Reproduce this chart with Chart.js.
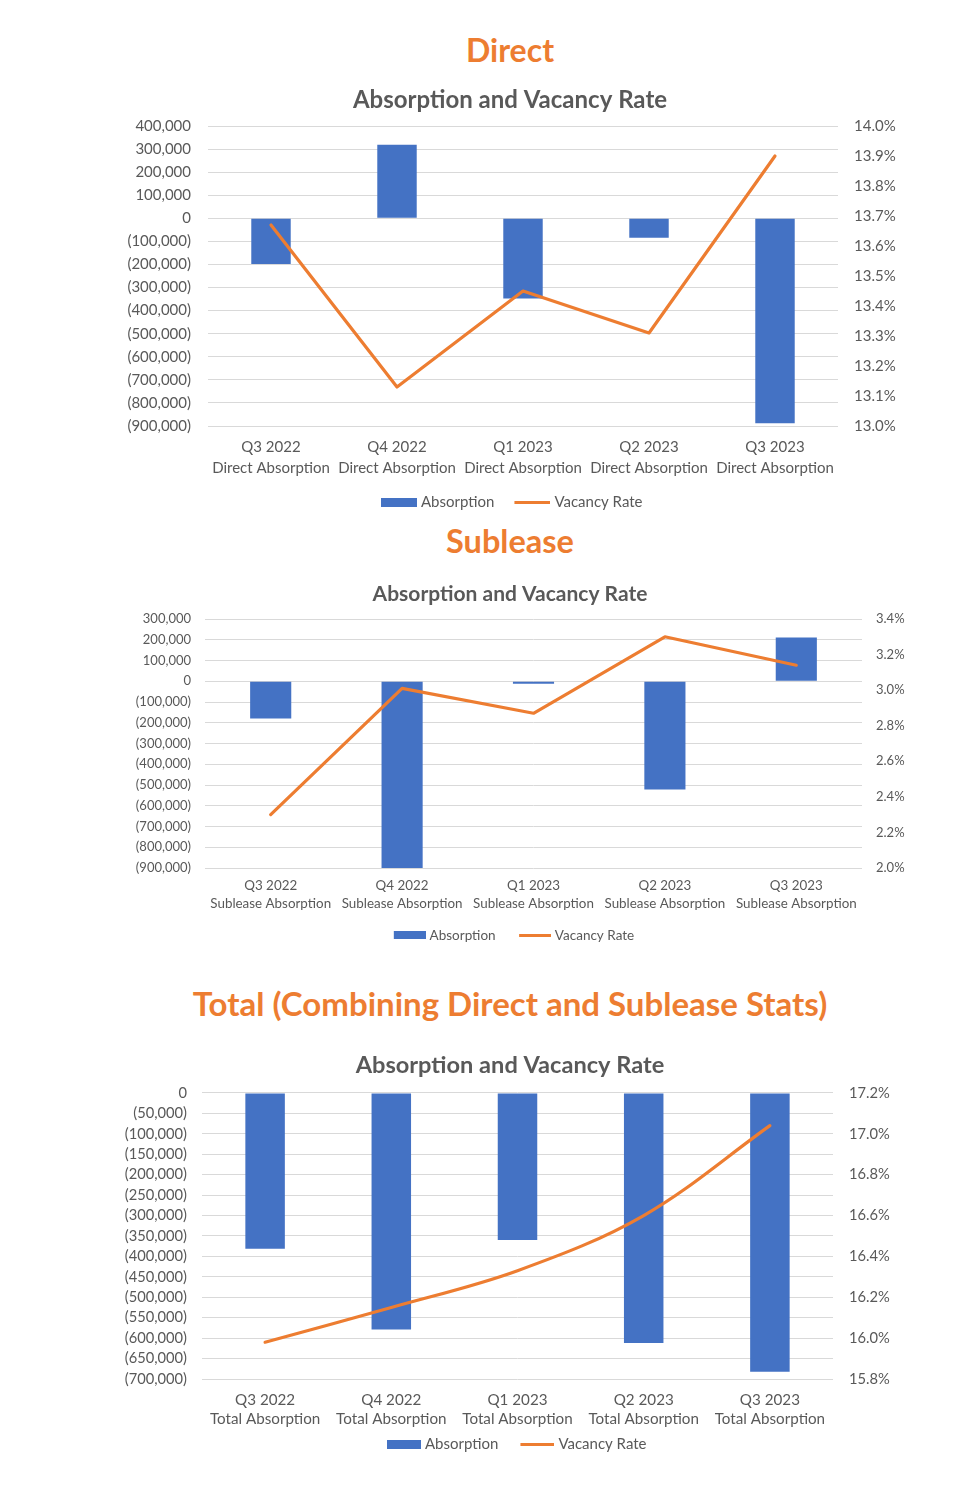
<!DOCTYPE html>
<html>
<head>
<meta charset="utf-8">
<script src="https://cdn.jsdelivr.net/npm/chart.js@4.4.0/dist/chart.umd.min.js"></script>
<style>
  body { margin: 0; background: #fff; width: 980px; height: 1489px; position: relative; overflow: hidden; font-family: Lato, "Open Sans", sans-serif; }
  .heading { position: absolute; left: 0; width: 1020px; text-align: center; color: #ED7D31; font-weight: bold; white-space: nowrap; line-height: 40px; height: 40px; }
  .box { position: absolute; left: 100px; width: 820px; }
</style>
</head>
<body>
<div class="heading" style="top:30px;font-size:32px;">Direct</div>
<div class="box" style="top:80px;height:440px;"><canvas id="directChart"></canvas></div>

<div class="heading" style="top:521px;font-size:32.5px;">Sublease</div>
<div class="box" style="top:577px;height:375px;"><canvas id="subleaseChart"></canvas></div>

<div class="heading" style="top:983px;font-size:33px;">Total (Combining Direct and Sublease Stats)</div>
<div class="box" style="top:1046px;height:416px;"><canvas id="totalChart"></canvas></div>

<script>
const quarters = ['Q3 2022', 'Q4 2022', 'Q1 2023', 'Q2 2023', 'Q3 2023'];

const directAbsorption = [-198000, 319000, -347000, -84000, -888000];
const directVacancy = [13.67, 13.13, 13.45, 13.31, 13.90];

const subleaseAbsorption = [-180000, -900000, -12000, -522000, 211000];
const subleaseVacancy = [2.30, 3.01, 2.87, 3.30, 3.14];

const totalAbsorption = [-381000, -579000, -360000, -612000, -682000];
const totalVacancy = [15.98, 16.15, 16.33, 16.60, 17.04];

const BLUE = '#4472C4';
const ORANGE = '#ED7D31';
const GREY = '#595959';
const FONT = 'Lato, "Open Sans", sans-serif';

// legend swatch: transparent room on the left, the mark sits on the right edge
const makeSwatch = (canvasW, markW, markH, color) => {
    const c = document.createElement('canvas');
    c.width = canvasW;
    c.height = markH;
    const g = c.getContext('2d');
    g.fillStyle = color;
    g.fillRect(canvasW - markW, 0, markW, markH);
    return c;
};

const parenFormat = (v) => {
    const s = Math.abs(Math.round(v)).toLocaleString('en-US');
    return v < 0 ? '(' + s + ')' : s;
};

const buildChart = (canvasId, suffix, bars, rates, opt) => {
    const xLabels = quarters.map(q => [q, suffix]);
    // box width W keeps ~20px between items, text starts ~4px after the mark
    const W = 52.5 - opt.legendPad;
    const cw = Math.round(W + opt.legendSize - 8);
    const barSwatch = makeSwatch(cw, opt.swatchW, opt.swatchH, BLUE);
    const lineSwatch = makeSwatch(cw, opt.swatchW, 3, ORANGE);

    return new Chart(document.getElementById(canvasId), {
        data: {
            labels: xLabels,
            datasets: [
                {
                    type: 'bar',
                    label: 'Absorption',
                    data: bars,
                    yAxisID: 'yL',
                    backgroundColor: BLUE,
                    barPercentage: 0.313,
                    categoryPercentage: 1,
                    order: 1
                },
                {
                    type: 'line',
                    label: 'Vacancy Rate',
                    data: rates,
                    yAxisID: 'yR',
                    borderColor: ORANGE,
                    backgroundColor: ORANGE,
                    borderWidth: 3.2,
                    pointRadius: 0,
                    tension: opt.tension || 0,
                    borderCapStyle: 'round',
                    borderJoinStyle: 'round',
                    order: 0
                }
            ]
        },
        options: {
            responsive: true,
            maintainAspectRatio: false,
            animation: false,
            layout: { padding: 0 },
            plugins: {
                tooltip: { enabled: false },
                title: {
                    display: true,
                    text: 'Absorption and Vacancy Rate',
                    color: GREY,
                    font: { family: FONT, size: opt.titleSize, weight: 'bold', lineHeight: 1.2 },
                    padding: opt.titlePad
                },
                legend: {
                    position: 'bottom',
                    labels: {
                        color: GREY,
                        font: { family: FONT, size: opt.legendSize },
                        usePointStyle: true,
                        pointStyleWidth: W,
                        boxHeight: opt.swatchH,
                        padding: opt.legendPad,
                        generateLabels: (chart) => {
                            const items = Chart.defaults.plugins.legend.labels.generateLabels(chart);
                            items.forEach(it => {
                                it.pointStyle = it.datasetIndex === 0 ? barSwatch : lineSwatch;
                            });
                            items.sort((a, b) => a.datasetIndex - b.datasetIndex);
                            return items;
                        }
                    }
                }
            },
            scales: {
                x: {
                    grid: { display: false, drawTicks: false },
                    border: { display: false },
                    ticks: {
                        color: GREY,
                        font: { family: FONT, size: opt.xSize, lineHeight: opt.xLine },
                        padding: opt.xPad,
                        maxRotation: 0,
                        autoSkip: false
                    },
                    afterFit: (s) => { s.height = opt.xHeight; }
                },
                yL: {
                    position: 'left',
                    min: opt.leftMin,
                    max: opt.leftMax,
                    grid: { color: '#D9D9D9', lineWidth: 1, drawTicks: false },
                    border: { display: false },
                    ticks: {
                        stepSize: opt.leftStep,
                        autoSkip: false,
                        color: GREY,
                        font: { family: FONT, size: opt.tickSize },
                        padding: opt.leftPad,
                        callback: parenFormat
                    },
                    afterFit: (s) => { s.width = opt.leftW; }
                },
                yR: {
                    position: 'right',
                    min: opt.rightMin,
                    max: opt.rightMax,
                    grid: { display: false, drawTicks: false },
                    border: { display: false },
                    ticks: {
                        stepSize: opt.rightStep,
                        autoSkip: false,
                        color: GREY,
                        font: { family: FONT, size: opt.tickSize },
                        padding: opt.rightPad,
                        callback: (v) => Number(v).toFixed(1) + '%'
                    },
                    afterFit: (s) => { s.width = opt.rightW; }
                }
            }
        }
    });
};

buildChart('directChart', 'Direct Absorption', directAbsorption, directVacancy, {
    titleSize: 24, titlePad: { top: 5.6, bottom: 11.6 },
    legendSize: 15, legendPad: 16.5, swatchW: 36, swatchH: 9,
    xSize: 15, xLine: 21 / 15, xPad: 10.5, xHeight: 52.5,
    tickSize: 15,
    leftMin: -900000, leftMax: 400000, leftStep: 100000, leftPad: 17, leftW: 108,
    rightMin: 13.0, rightMax: 14.0, rightStep: 0.1, rightPad: 16, rightW: 82
});

buildChart('subleaseChart', 'Sublease Absorption', subleaseAbsorption, subleaseVacancy, {
    titleSize: 21, titlePad: { top: 4.4, bottom: 12.4 },
    legendSize: 13.5, legendPad: 15.5, swatchW: 32, swatchH: 8,
    xSize: 13.4, xLine: 18 / 13.4, xPad: 9, xHeight: 45,
    tickSize: 13,
    leftMin: -900000, leftMax: 300000, leftStep: 100000, leftPad: 14, leftW: 105,
    rightMin: 2.0, rightMax: 3.4, rightStep: 0.2, rightPad: 14, rightW: 58
});

buildChart('totalChart', 'Total Absorption', totalAbsorption, totalVacancy, {
    titleSize: 23.6, titlePad: { top: 4.8, bottom: 13.8 },
    legendSize: 15, legendPad: 8.5, swatchW: 34, swatchH: 9,
    xSize: 15.2, xLine: 19 / 15.2, xPad: 11.5, xHeight: 49.5,
    tickSize: 14.7, tension: 0.35,
    leftMin: -700000, leftMax: 0, leftStep: 50000, leftPad: 15, leftW: 102,
    rightMin: 15.8, rightMax: 17.2, rightStep: 0.2, rightPad: 16, rightW: 87
});
</script>
</body>
</html>
